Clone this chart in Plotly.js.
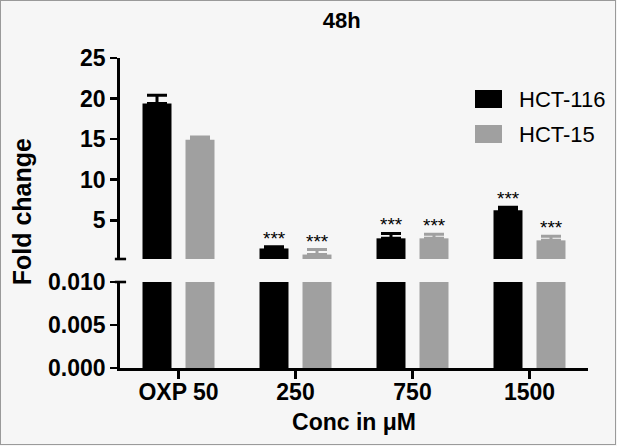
<!DOCTYPE html>
<html>
<head>
<meta charset="utf-8">
<script src="https://cdn.plot.ly/plotly-3.0.1.min.js"></script>
<style>
  body { margin: 0; background: #f6f6f6; }
  #wrap { position: relative; width: 617px; height: 446px; }
  #chart { width: 617px; height: 446px; }
  #frame { position: absolute; left: 0; top: 0; width: 614px; height: 443px; border: 1.5px solid #9a9a9a; pointer-events: none; }
</style>
</head>
<body>
<div id="wrap"><div id="chart"></div><div id="frame"></div></div>
<script>
const categories = ["OXP 50", "250", "750", "1500"];
const hct116 = [19.4, 1.5, 2.75, 6.2];
const hct116Err = [1.0, 0.2, 0.6, 0.4];
const hct15 = [14.9, 0.75, 2.75, 2.5];
const hct15Err = [0.35, 0.62, 0.5, 0.5];
const stars116 = ["", "***", "***", "***"];
const stars15 = ["", "***", "***", "***"];
const seriesNames = ["HCT-116", "HCT-15"];

const FONT = "Liberation Sans, Arial, Helvetica, sans-serif";
const black = "#000000";
const gray = "#a0a0a0";

function barTrace(values, errs, color, yaxis) {
  const trace = {
    type: "bar",
    x: categories,
    y: values,
    yaxis: yaxis,
    marker: { color: color, line: { width: 0 } },
    hoverinfo: "skip",
    showlegend: false,
  };
  if (errs) {
    trace.error_y = {
      type: "data",
      symmetric: false,
      array: errs,
      arrayminus: errs.map(() => 0),
      color: color,
      thickness: 3,
      width: 10,
    };
  }
  return trace;
}

const traces = [
  barTrace(hct116, null, black, "y"),
  barTrace(hct15, null, gray, "y"),
  barTrace(hct116, hct116Err, black, "y2"),
  barTrace(hct15, hct15Err, gray, "y2"),
];

const annotations = [];
// significance stars (category axis: position by index)
categories.forEach((cat, i) => {
  [[stars116, hct116, hct116Err, -21.5], [stars15, hct15, hct15Err, 21.5]].forEach(([stars, vals, errs, shift]) => {
    if (!stars[i]) return;
    annotations.push({
      x: i, y: vals[i] + errs[i], xref: "x", yref: "y2",
      xanchor: "center", xshift: shift, yshift: -4, yanchor: "bottom",
      text: stars[i], showarrow: false,
      font: { family: FONT, size: 19, color: black },
    });
  });
});

// y title spanning both segments
annotations.push({
  x: -0.209, y: 0.503, xref: "paper", yref: "paper",
  xanchor: "center", yanchor: "middle",
  text: "Fold change", textangle: -90, showarrow: false,
  font: { family: FONT, size: 25, color: black, weight: "bold" },
});

// legend drawn by hand (large swatches)
const legendColors = [black, gray];
const legendRows = [0.8677, 0.7548];
const shapes = [];
seriesNames.forEach((name, i) => {
  shapes.push({
    type: "rect", xref: "paper", yref: "paper",
    x0: 0.7585, x1: 0.8162, y0: legendRows[i] - 0.029, y1: legendRows[i] + 0.029,
    fillcolor: legendColors[i], line: { width: 0 },
  });
  annotations.push({
    x: 0.8483, y: legendRows[i], xref: "paper", yref: "paper",
    xanchor: "left", yanchor: "middle", text: name, showarrow: false,
    font: { family: FONT, size: 22, color: black },
  });
});

// axis break marks
const lowerTop = 0.2774, upperBottom = 0.3516;
[lowerTop, upperBottom].forEach((yy) => {
  shapes.push({
    type: "line", xref: "paper", yref: "paper",
    x0: -0.011, x1: 0.013, y0: yy, y1: yy,
    line: { color: black, width: 2.6 },
  });
});

const axisCommon = {
  showline: true, linecolor: black, linewidth: 2.8,
  ticks: "outside", ticklen: 7, tickwidth: 2.8, tickcolor: black,
  showgrid: false, zeroline: false,
  ticklabelstandoff: 0,
  tickfont: { family: FONT, size: 23, color: black, weight: "bold" },
};

const layout = {
  width: 617, height: 446,
  margin: { l: 120, r: 29, t: 58, b: 78 },
  paper_bgcolor: "#f6f6f6",
  plot_bgcolor: "rgba(0,0,0,0)",
  barmode: "group",
  bargap: 0.265,
  bargroupgap: 0.326,
  title: {
    text: "48h", xref: "container", x: 0.554, xanchor: "center",
    yref: "container", y: 0.955, yanchor: "middle",
    font: { family: FONT, size: 22, color: black, weight: "bold" },
  },
  xaxis: {
    ...axisCommon,
    type: "category",
    range: [-0.5, 3.5],
    ticklen: 8,
    ticklabelstandoff: -6,
    anchor: "y",
    title: {
      text: "Conc in μM", standoff: 10,
      font: { family: FONT, size: 23, color: black, weight: "bold" },
    },
  },
  yaxis: {
    ...axisCommon,
    domain: [0, lowerTop],
    range: [0, 0.010],
    tickvals: [0, 0.005, 0.010],
    tickformat: ".3f",
    anchor: "x",
  },
  yaxis2: {
    ...axisCommon,
    domain: [upperBottom, 1],
    range: [0.2, 25],
    tickvals: [5, 10, 15, 20, 25],
    anchor: "x",
  },
  annotations: annotations,
  shapes: shapes,
  showlegend: false,
};

Plotly.newPlot("chart", traces, layout, { staticPlot: true, displayModeBar: false });
</script>
</body>
</html>
